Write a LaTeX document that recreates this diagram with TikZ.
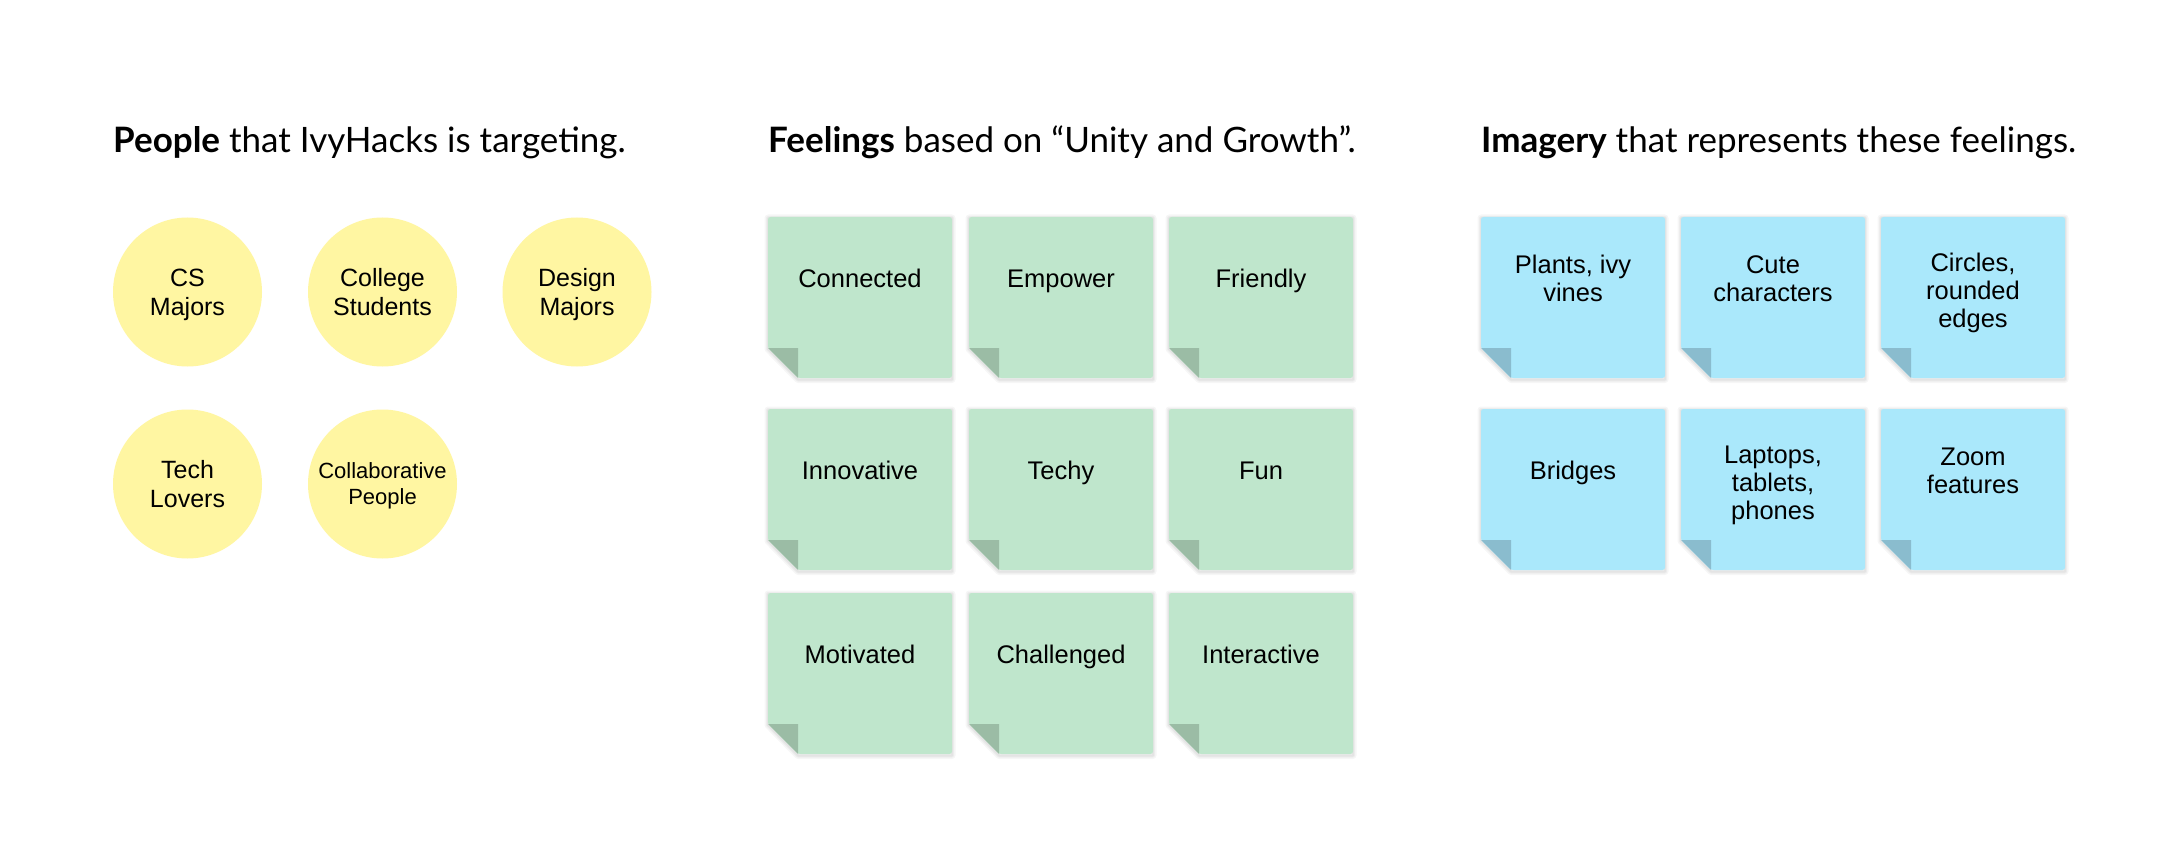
\documentclass[tikz,border=0pt]{standalone}
\usepackage{fontspec}
\setmainfont{Liberation Sans}
\newfontfamily\headfont{Lato}
\usetikzlibrary{calc}
\definecolor{circfill}{HTML}{FFF6A2}
\definecolor{greennote}{HTML}{BFE6CC}
\definecolor{greenfold}{HTML}{9BBCA5}
\definecolor{bluenote}{HTML}{AAE8FB}
\definecolor{bluefold}{HTML}{8ABCCE}
\def\NW{184}\def\NH{161}\def\NF{30}
\newcommand{\Tr}{\rule{0pt}{0.75em}}
\newcommand{\Br}{\rule[-0.25em]{0pt}{0.25em}}
\tikzset{
  heading/.style={anchor=base west, inner sep=0, font=\headfont\fontsize{35}{40}\selectfont},
  circ/.style={circle, fill=circfill, minimum size=149pt, inner sep=0},
  circtext/.style={align=center, inner sep=0, font=\fontsize{25}{28.5}\selectfont},
  notetext/.style={anchor=north, align=center, inner sep=0, font=\fontsize{25.5}{28}\selectfont},
  halo/.style={draw=black, line width=#1, line join=round, opacity=0.035},
}
% name, left, top, fill, fold, text, top of first line (offset)
\newcommand{\stickynote}[7]{%
  \coordinate (#1) at (#2,#3);
  \foreach \w in {7pt,4pt,2pt}{
    \draw[halo=\w] (#2,{#3+\NH-\NF+1}) -- (#2,{#3+1}) -- ({#2+\NW},{#3+1}) -- ({#2+\NW},{#3+\NH+1.5}) -- ({#2+\NF},{#3+\NH+1.5}) -- cycle;
  }
  \fill[#4, rounded corners=2.5pt] (#2,{#3+\NH-\NF}) -- (#2,#3) -- ({#2+\NW},#3) -- ({#2+\NW},{#3+\NH}) -- ({#2+\NF},{#3+\NH}) -- cycle;
  \fill[#5] (#2,{#3+\NH-\NF}) -- ({#2+\NF},{#3+\NH-\NF}) -- ({#2+\NF},{#3+\NH}) -- cycle;
  \node[notetext] (#1t) at ({#2+\NW/2},{#3+#7}) {\Tr #6};
}
\begin{document}
\begin{tikzpicture}[x=1pt,y=-1pt]
\fill[white] (0,0) rectangle (2161,853);
\useasboundingbox (0,0) rectangle (2161,853);

% headings
\node[heading] (h1) at (113,153) {\textbf{People} that IvyHacks is targeting.};
\node[heading] (h2) at (768,153) {\textbf{Feelings} based on “Unity and Growth”.};
\node[heading] (h3) at (1481,153) {\textbf{Imagery} that represents these feelings.};

% people
\node[circ] (cs) at (187.5,292) {};
\node[circ] (college) at (382.5,292) {};
\node[circ] (design) at (577,292) {};
\node[circ] (tech) at (187.5,484) {};
\node[circ] (collab) at (382.5,484) {};
\node[circtext] (cs-t) at ($(cs)+(0,2.7)$) {\Tr CS\\Majors\Br};
\node[circtext] (college-t) at ($(college)+(0,2.7)$) {\Tr College\\Students\Br};
\node[circtext] (design-t) at ($(design)+(0,2.7)$) {\Tr Design\\Majors\Br};
\node[circtext] (tech-t) at ($(tech)+(0,2.7)$) {\Tr Tech\\Lovers\Br};
\node[circtext, font=\fontsize{22}{26}\selectfont] (collab-t) at ($(collab)+(0,2.4)$) {\Tr Collaborative\\People\Br};

% feelings
\stickynote{connected}{768}{217}{greennote}{greenfold}{Connected}{51}
\stickynote{empower}{969}{217}{greennote}{greenfold}{Empower}{51}
\stickynote{friendly}{1169}{217}{greennote}{greenfold}{Friendly}{51}
\stickynote{innovative}{768}{409}{greennote}{greenfold}{Innovative}{51}
\stickynote{techy}{969}{409}{greennote}{greenfold}{Techy}{51}
\stickynote{fun}{1169}{409}{greennote}{greenfold}{Fun}{51}
\stickynote{motivated}{768}{593}{greennote}{greenfold}{Motivated}{51}
\stickynote{challenged}{969}{593}{greennote}{greenfold}{Challenged}{51}
\stickynote{interactive}{1169}{593}{greennote}{greenfold}{Interactive}{51}

% imagery
\stickynote{plants}{1481}{217}{bluenote}{bluefold}{Plants, ivy\\vines}{37}
\stickynote{cute}{1681}{217}{bluenote}{bluefold}{Cute\\characters}{37}
\stickynote{circles}{1881}{217}{bluenote}{bluefold}{Circles,\\rounded\\edges}{35}
\stickynote{bridges}{1481}{409}{bluenote}{bluefold}{Bridges}{51}
\stickynote{laptops}{1681}{409}{bluenote}{bluefold}{Laptops,\\tablets,\\phones}{35}
\stickynote{zoomf}{1881}{409}{bluenote}{bluefold}{Zoom\\features}{37}
\end{tikzpicture}
\end{document}
